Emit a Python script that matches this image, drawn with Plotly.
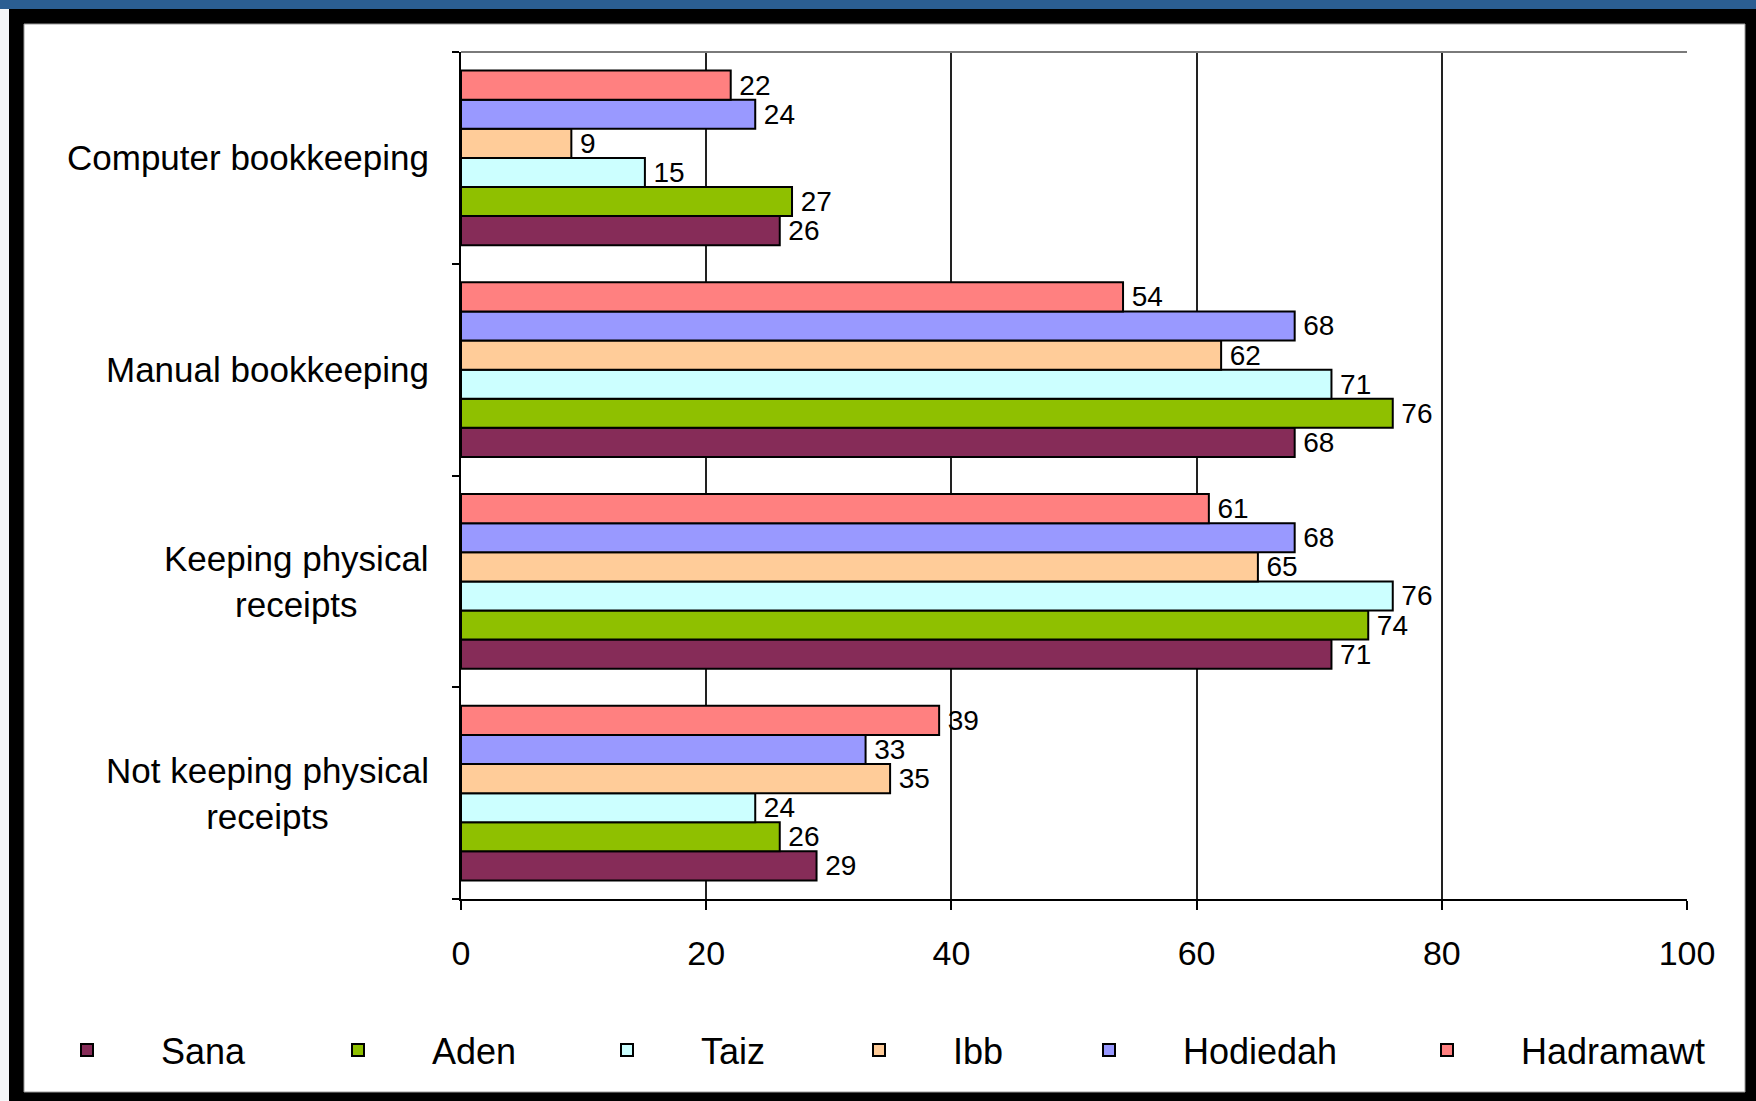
import plotly.graph_objects as go

# Survey categories, listed top to bottom as they appear on the chart
categories = [
    "Computer bookkeeping",
    "Manual bookkeeping",
    "Keeping physical receipts",
    "Not keeping physical receipts",
]
category_labels = [
    "Computer bookkeeping",
    "Manual bookkeeping",
    "Keeping physical<br>receipts",
    "Not keeping physical<br>receipts",
]

# Percentage of respondents per governorate, in category order
regions = ["Sana", "Aden", "Taiz", "Ibb", "Hodiedah", "Hadramawt"]
sana = [26, 68, 71, 29]
aden = [27, 76, 74, 26]
taiz = [15, 71, 76, 24]
ibb = [9, 62, 65, 35]
hodiedah = [24, 68, 68, 33]
hadramawt = [22, 54, 61, 39]
series = [sana, aden, taiz, ibb, hodiedah, hadramawt]

x_ticks = [0, 20, 40, 60, 80, 100]

colors = ["#862C58", "#8FC000", "#CCFFFF", "#FFCC99", "#9999FF", "#FF8080"]

W, H = 1756, 1101
L, R, T, B = 461, 1687, 52, 899  # plot area in pixels

def px_x(px):
    return (px - L) / (R - L)

def px_y(py):
    return (B - py) / (B - T)

FONT = "Liberation Sans, Arial, sans-serif"

# legend symbol centres (pixels); each entry gets its own legend box
legend_symbol_px = [87, 358, 627, 879, 1109, 1447]
ITEMWIDTH = 138  # symbol sits at itemwidth/2 + 5, text at itemwidth + 10

fig = go.Figure()
for i, (name, vals, col) in enumerate(zip(regions, series, colors)):
    lg = "legend" if i == 0 else f"legend{i + 1}"
    fig.add_trace(go.Bar(
        name=name,
        y=categories,
        x=vals,
        orientation="h",
        marker=dict(color=col, line=dict(color="black", width=2)),
        text=vals,
        texttemplate="\u2009%{x}",
        textposition="outside",
        constraintext="none",
        cliponaxis=False,
        textfont=dict(family=FONT, size=28, color="black"),
        legend=lg,
        showlegend=True,
        hoverinfo="x+name",
    ))

layout = dict(
    width=W,
    height=H,
    margin=dict(l=L, r=W - R, t=T, b=H - B, pad=0),
    paper_bgcolor="black",
    plot_bgcolor="white",
    showlegend=True,
    barmode="group",
    bargap=0.175,
    bargroupgap=0,
    font=dict(family=FONT, size=34, color="black"),
    xaxis=dict(
        range=[0, 100],
        tickvals=x_ticks,
        ticktext=[str(v) for v in x_ticks],
        showgrid=True,
        gridcolor="#222222",
        gridwidth=2,
        showline=True,
        linecolor="black",
        linewidth=2,
        ticks="outside",
        ticklen=9,
        tickwidth=2,
        tickcolor="black",
        ticklabelstandoff=14,
        zeroline=False,
        fixedrange=True,
    ),
    yaxis=dict(
        type="category",
        categoryorder="array",
        categoryarray=list(reversed(categories)),
        showticklabels=False,
        showgrid=False,
        showline=True,
        linecolor="black",
        linewidth=2,
        ticks="outside",
        tickson="boundaries",
        ticklen=7,
        tickwidth=2,
        tickcolor="black",
        zeroline=False,
        fixedrange=True,
    ),
    shapes=[
        # white chart panel
        dict(type="rect", xref="paper", yref="paper", layer="below",
             x0=px_x(24), x1=px_x(1745), y0=px_y(1092), y1=px_y(24),
             fillcolor="white", line=dict(color="#9a9a9a", width=1)),
        # blue banner strip along the top edge
        dict(type="rect", xref="paper", yref="paper", layer="below",
             x0=px_x(0), x1=px_x(W), y0=px_y(9), y1=px_y(0),
             fillcolor="#2B5E92", line=dict(width=0)),
        # thin light strip on the left edge
        dict(type="rect", xref="paper", yref="paper", layer="below",
             x0=px_x(0), x1=px_x(9), y0=px_y(H), y1=px_y(9),
             fillcolor="#f4f6f8", line=dict(width=0)),
        # plot area top border
        dict(type="line", xref="paper", yref="paper", layer="above",
             x0=0, x1=1, y0=1, y1=1, line=dict(color="#7a7a7a", width=2)),
    ],
    annotations=[
        dict(x=0, xref="paper", y=cat, yref="y", text=lab,
             xanchor="right", yanchor="middle", xshift=-30, align="center",
             showarrow=False, font=dict(family=FONT, size=35, color="black"))
        for cat, lab in zip(categories, category_labels)
    ],
)

for i, sx in enumerate(legend_symbol_px):
    key = "legend" if i == 0 else f"legend{i + 1}"
    layout[key] = dict(
        x=px_x(sx - (ITEMWIDTH / 2 + 5)), y=px_y(1050),
        xref="paper", yref="paper",
        xanchor="left", yanchor="middle",
        orientation="h",
        bgcolor="rgba(0,0,0,0)",
        borderwidth=0,
        itemwidth=ITEMWIDTH,
        font=dict(family=FONT, size=36, color="black"),
    )

fig.update_layout(**layout)
fig.write_html("out.html")
